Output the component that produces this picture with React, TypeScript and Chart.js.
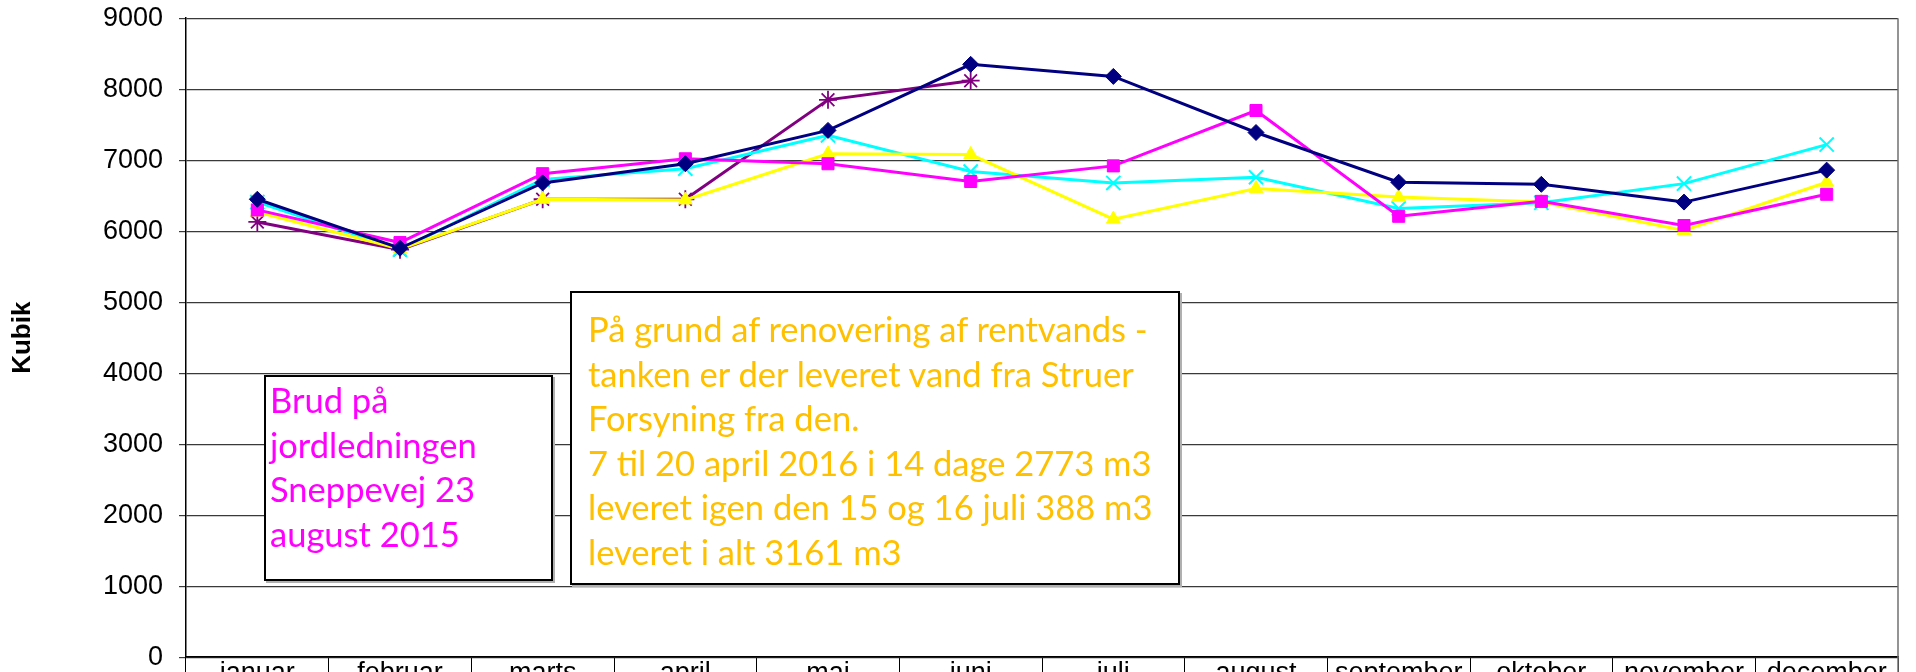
import React, { useEffect, useRef } from 'react';
import { Chart, registerables } from 'chart.js';

Chart.register(...registerables);

const months = ['januar', 'februar', 'marts', 'april', 'maj', 'juni', 'juli', 'august', 'september', 'oktober', 'november', 'december'];

const serie1 = [6450, 5760, 6680, 6950, 7420, 8350, 8180, 7390, 6690, 6660, 6410, 6860];
const serie2 = [6300, 5840, 6810, 7020, 6950, 6700, 6920, 7700, 6210, 6420, 6080, 6520];
const serie3 = [6270, 5750, 6450, 6440, 7090, 7080, 6170, 6600, 6480, 6410, 6010, 6690];
const serie4 = [6410, 5740, 6730, 6880, 7350, 6840, 6680, 6760, 6320, 6400, 6670, 7220];
const serie5 = [6130, 5740, 6450, 6450, 7850, 8120, null, null, null, null, null, null];

const seriesNames = ['Serie 1', 'Serie 2', 'Serie 3', 'Serie 4', 'Serie 5'];

const yMin = 0;
const yMax = 9000;
const yStep = 1000;
const yTitle = 'Kubik';

const note1Lines = ['Brud på', 'jordledningen', 'Sneppevej 23', 'august 2015'];
const note2Lines = [
  'På grund af renovering af rentvands -',
  'tanken er der leveret vand fra Struer',
  'Forsyning fra den.',
  '7 til 20 april 2016 i 14 dage 2773 m3',
  'leveret igen den 15 og 16 juli 388 m3',
  'leveret i alt 3161 m3',
];

const FONT = "'Liberation Sans', Arial, sans-serif";
const NOTE_FONT = "Lato, 'Noto Sans', sans-serif";

const CANVAS_H = 760;
const AREA = { left: 186, top: 18, right: 1898, bottom: 657 };

export default function App() {
  const ref = useRef<HTMLCanvasElement | null>(null);
  const wrapRef = useRef<HTMLDivElement | null>(null);

  useEffect(() => {
    const frame = {
      id: 'frame',
      afterDraw(chart: any) {
        const { ctx, chartArea } = chart;
        ctx.save();
        ctx.strokeStyle = '#707070';
        ctx.lineWidth = 1.5;
        ctx.beginPath();
        ctx.moveTo(chartArea.right, chartArea.top);
        ctx.lineTo(chartArea.right, chart.height);
        ctx.stroke();
        ctx.restore();
      },
    };

    const mk = (label: string, data: (number | null)[], color: string, style: string, r: number, bw: number) => ({
      label,
      data,
      borderColor: color,
      backgroundColor: color,
      pointBackgroundColor: color,
      pointBorderColor: color,
      pointStyle: style,
      pointRadius: r,
      pointBorderWidth: bw,
      borderWidth: 3,
      tension: 0,
      spanGaps: false,
    });

    const chart = new Chart(ref.current as HTMLCanvasElement, {
      type: 'line',
      data: {
        labels: months,
        datasets: [
          mk(seriesNames[0], serie1, '#000080', 'rectRot', 8, 1),
          mk(seriesNames[1], serie2, '#FF00FF', 'rect', 8.5, 1),
          mk(seriesNames[2], serie3, '#FFFF00', 'triangle', 8, 1),
          mk(seriesNames[3], serie4, '#00FFFF', 'crossRot', 10, 2),
          mk(seriesNames[4], serie5, '#800080', 'star', 9, 1.8),
        ] as any,
      },
      options: {
        animation: false,
        responsive: true,
        maintainAspectRatio: false,
        layout: { padding: { top: 18, right: 18, left: 0, bottom: 40 } },
        plugins: {
          legend: { display: false },
          tooltip: { enabled: false },
        },
        scales: {
          x: {
            type: 'category',
            offset: true,
            grid: {
              offset: true,
              drawOnChartArea: false,
              drawTicks: true,
              tickLength: 40,
              color: '#000',
              lineWidth: 1,
            },
            border: { display: true, color: '#000', width: 1.5 },
            ticks: {
              color: '#000',
              font: { family: FONT, size: 27 },
              padding: -40,
              maxRotation: 0,
              autoSkip: false,
            },
            afterFit(scale: any) {
              scale.height = 40;
            },
          },
          y: {
            min: yMin,
            max: yMax,
            grid: {
              color: '#3a3a3a',
              lineWidth: 1.2,
              drawTicks: true,
              tickLength: 7,
            },
            border: { display: true, color: '#000', width: 1.5 },
            ticks: {
              stepSize: yStep,
              color: '#000',
              font: { family: FONT, size: 27 },
              padding: 16,
              callback: (v: any) => String(v),
            },
            title: {
              display: true,
              text: yTitle,
              color: '#000',
              font: { family: FONT, size: 26, weight: 'bold' },
              padding: { top: 7, bottom: 0 },
            },
            afterFit(scale: any) {
              scale.width = AREA.left;
            },
          },
        },
      } as any,
      plugins: [frame],
    });

    const p = (chart.options as any).layout.padding;
    let shift = 0;
    for (let i = 0; i < 6; i++) {
      const ca = chart.chartArea;
      const dt = AREA.top - ca.top;
      const newTop = Math.max(0, p.top + dt);
      shift = ca.top - AREA.top;
      const db = ca.bottom - (AREA.bottom + shift);
      const dr = ca.right - AREA.right;
      if (Math.abs(dt) < 0.5 && Math.abs(db) < 0.5 && Math.abs(dr) < 0.5) break;
      if (newTop === p.top && Math.abs(db) < 0.5 && Math.abs(dr) < 0.5) break;
      p.top = newTop;
      p.bottom = Math.max(0, p.bottom + db);
      p.right += dr;
      chart.update();
    }
    shift = chart.chartArea.top - AREA.top;
    if (wrapRef.current) wrapRef.current.style.top = `${-shift}px`;

    return () => chart.destroy();
  }, []);

  const boxBase: React.CSSProperties = {
    position: 'absolute',
    background: '#fff',
    border: '2px solid #000',
    boxShadow: '2px 2px 0 #b0b0b0',
    boxSizing: 'border-box',
    fontFamily: NOTE_FONT,
    fontSize: 34.5,
    lineHeight: '44.6px',
    whiteSpace: 'nowrap',
    overflow: 'hidden',
  };

  return (
    <div style={{ position: 'absolute', left: 0, top: 0, width: 1916, height: 672, background: '#fff', overflow: 'hidden' }}>
      <div ref={wrapRef} style={{ position: 'absolute', left: 0, top: 0, width: 1916, height: CANVAS_H }}>
        <canvas ref={ref} />
      </div>
      <div style={{ ...boxBase, left: 264, top: 375, width: 289, height: 206, color: '#FF00FF', paddingLeft: 4, paddingTop: 1 }}>
        {note1Lines.map((l, i) => (
          <div key={i}>{l}</div>
        ))}
      </div>
      <div style={{ ...boxBase, left: 570, top: 291, width: 610, height: 294, color: '#FFC000', paddingLeft: 16, paddingTop: 14 }}>
        {note2Lines.map((l, i) => (
          <div key={i}>{l}</div>
        ))}
      </div>
    </div>
  );
}
